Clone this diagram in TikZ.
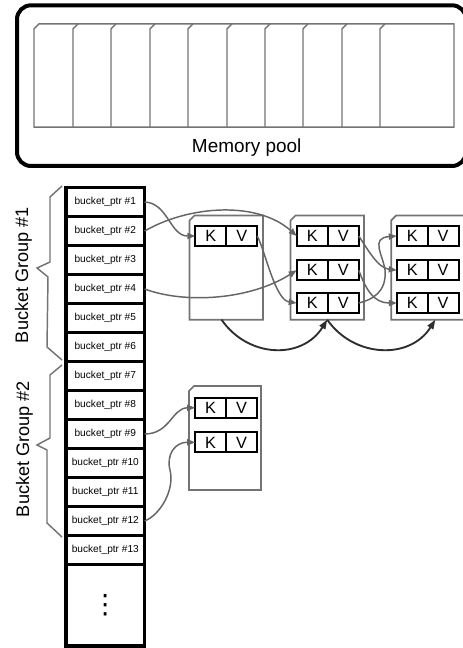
\documentclass[tikz,border=0pt]{standalone}
\usepackage{fontspec}
\setmainfont{Liberation Sans}
\newfontfamily\dotsfont{DejaVu Sans}
\usetikzlibrary{arrows.meta}

\definecolor{edgegray}{HTML}{737373}
\definecolor{arrowgray}{HTML}{656565}
\definecolor{linkdark}{HTML}{2E2E2E}

\tikzset{
  cell/.style={draw=black, line width=2.6pt, fill=white, minimum width=59pt,
    minimum height=21.75pt, inner sep=0pt, outer sep=0pt,
    font=\fontsize{7.6}{9}\selectfont},
  kv/.style={draw=black, line width=1.5pt, fill=white, minimum width=23.25pt,
    minimum height=15pt, inner sep=0pt, outer sep=0pt,
    font=\fontsize{12.2}{14}\selectfont},
  blk/.style={rectangle, fill=white, inner sep=0pt, outer sep=0pt},
  blkline/.style={draw=edgegray, line width=1.3pt, line join=miter},
  pagestroke/.style={draw=edgegray, line width=1.1pt, line join=miter},
  ptr/.style={draw=arrowgray, line width=1.1pt, -{Triangle[length=6pt,width=4.6pt]}},
  nxt/.style={draw=linkdark, line width=1.4pt, -{Triangle[length=7pt,width=5pt]}},
  bracestroke/.style={draw=edgegray, line width=1.1pt, line join=miter},
  grouplabel/.style={rotate=90, inner sep=0pt, font=\fontsize{13.6}{16}\selectfont},
}

% outline of a block with its upper left corner cut off
\newcommand\chamferoutline[1]{%
  \draw[blkline] (#1.south west) -- ([yshift=-3.75pt]#1.north west)
    -- ([xshift=3.75pt]#1.north west) -- (#1.north east)
    -- (#1.south east) -- cycle;}

\begin{document}
\begin{tikzpicture}[x=0.75pt,y=-0.75pt]
\useasboundingbox (0,0) rectangle (462,648);

% ---------------- memory pool ----------------
\draw[line width=3pt, rounded corners=10.5pt] (17,5.3) rectangle (466,166);
\draw[pagestroke] (39,23.8) -- (454,23.8) -- (454,127.2) -- (34,127.2) -- (34,28.8) -- cycle;
\foreach \px in {73,111,150,188,227,265,303,342,380} {
  \draw[pagestroke] (\px,127.2) -- (\px,28.8) -- ({\px+5},23.8);
}
\node[inner sep=0pt, font=\fontsize{14.2}{16}\selectfont] (pooltxt) at (246.7,147.9) {Memory pool};

% ---------------- bucket pointer column ----------------
\foreach \i in {1,...,13} {
  \node[cell] (b\i) at (105.3,{202+29*(\i-1)}) {bucket\_ptr \#\i};
}
\node[cell, minimum height=61.1pt, font=\dotsfont\fontsize{20}{20}\selectfont] (bmore) at (105.3,605.25) {⋮};

% ---------------- group braces and labels ----------------
\draw[bracestroke] (62,186) -- (50,197) -- (50,262) -- (37,268) -- (48,277) -- (47,347) -- (62,360);
\draw[bracestroke] (62,365) -- (50,375) -- (50,438) -- (37,445) -- (47,450) -- (47,523) -- (62,537);
\node[grouplabel] (g1) at (23.5,275) {Bucket Group \#1};
\node[grouplabel] (g2) at (24.5,449) {Bucket Group \#2};

% ---------------- key/value blocks ----------------
\node[blk, minimum width=55.1pt, minimum height=78.2pt] (blk1) at (226.25,267.6) {};
\node[blk, minimum width=55.1pt, minimum height=78.2pt] (blk2) at (327.25,267.6) {};
\node[blk, minimum width=55.1pt, minimum height=78.2pt] (blk3) at (427.95,267.6) {};
\node[blk, minimum width=54pt, minimum height=78pt] (blk4) at (225,438) {};
\chamferoutline{blk1}
\chamferoutline{blk2}
\chamferoutline{blk3}
\chamferoutline{blk4}

% block 1
\node[kv] (k11) at (210.75,236) {K};
\node[kv] (v11) at (241.7,236) {V};
% block 2
\node[kv] (k21) at (312.2,236) {K};
\node[kv] (v21) at (343.25,236) {V};
\node[kv] (k22) at (312.2,270.2) {K};
\node[kv] (v22) at (343.25,270.2) {V};
\node[kv] (k23) at (312.2,303) {K};
\node[kv] (v23) at (343.25,303) {V};
% block 3
\node[kv] (k31) at (412.25,236) {K};
\node[kv] (v31) at (443,236) {V};
\node[kv] (k32) at (412.25,270.2) {K};
\node[kv] (v32) at (443,270.2) {V};
\node[kv] (k33) at (412.25,303) {K};
\node[kv] (v33) at (443,303) {V};
% block 4
\node[kv] (k41) at (210.6,407.7) {K};
\node[kv] (v41) at (241.6,407.7) {V};
\node[kv] (k42) at (210.6,442.4) {K};
\node[kv] (v42) at (241.6,442.4) {V};

% ---------------- bucket pointers into the chains ----------------
\draw[ptr] (b1.east) .. controls (168,203) and (170,236) .. (k11.west);
\draw[ptr] (b2.east) .. controls (190,205) and (258,201) .. (k21.west);
\draw[ptr] (b4.east) .. controls (185,304) and (250,300) .. (k22.west);
\draw[ptr] (b9.east) .. controls (170,434) and (172,408) .. (k41.west);
\draw[ptr] (b12.east) .. controls (160,515) and (175,490) .. (170,470)
                      .. controls (166,455) and (175,442) .. (k42.west);

% ---------------- links between entries ----------------
\draw[ptr] (v11.east) .. controls (265,250) and (275,300) .. (k23.west);
\draw[ptr] (v21.east) .. controls (368,250) and (378,268) .. (k32.west);
\draw[ptr] (v22.east) .. controls (366,290) and (374,303) .. (k33.west);
\draw[ptr] (v23.east) .. controls (372,300) and (387,292) .. (385,270)
                      .. controls (383,255) and (370,238) .. (k31.west);

% ---------------- links between blocks ----------------
\draw[nxt] ([xshift=-3.5pt]blk1.south) .. controls (248,358) and (302,360) .. (blk2.south);
\draw[nxt] (blk2.south) .. controls (354,358) and (410,360) .. ([xshift=5.5pt]blk3.south);

\end{tikzpicture}
\end{document}
